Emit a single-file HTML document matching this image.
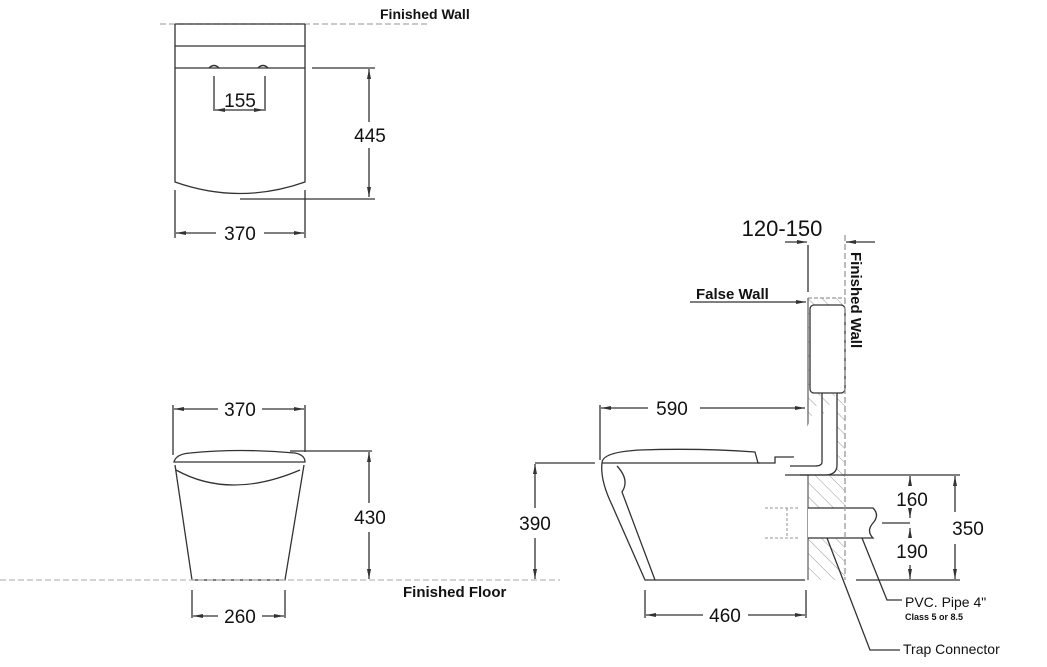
<!DOCTYPE html>
<html><head><meta charset="utf-8"><style>
html,body{margin:0;padding:0;background:#fff}
svg{display:block}
text{font-family:"Liberation Sans",Arial,sans-serif;fill:#111}
</style></head><body>
<svg width="1047" height="667" viewBox="0 0 1047 667" xmlns="http://www.w3.org/2000/svg">
<defs>
<marker id="a" viewBox="0 0 10 6" refX="10" refY="3" markerWidth="10" markerHeight="6" orient="auto-start-reverse" markerUnits="userSpaceOnUse"><path d="M0,1 L10,3 L0,5 z" fill="#333"/></marker>
<pattern id="h" width="10" height="10" patternUnits="userSpaceOnUse" patternTransform="rotate(-45)"><line x1="0" y1="0" x2="0" y2="10" stroke="#999" stroke-width="1"/></pattern>
</defs>
<g stroke="#333" stroke-width="1.3" fill="none">
<!-- TOP VIEW -->
<line x1="160" y1="24" x2="430" y2="24" stroke="#aaa" stroke-dasharray="6,3"/>
<path d="M175,24 H305 M175,46 H305 M175,68 H305"/>
<path d="M175,24 V182 Q240,205 305,182 V24"/>
<path d="M209,68 q5,-5 10,0 M258,68 q5,-5 10,0"/>
<path d="M175,190 V238 M305,190 V238"/>
<line x1="176" y1="233" x2="216" y2="233" marker-start="url(#a)"/>
<line x1="264" y1="233" x2="304" y2="233" marker-end="url(#a)"/>
<path d="M214,76 V111 M265,76 V111"/>
<line x1="215" y1="110" x2="264" y2="110" marker-start="url(#a)" marker-end="url(#a)"/>
<path d="M312,68 H375 M240,199 H375"/>
<line x1="369" y1="69" x2="369" y2="122" marker-start="url(#a)"/>
<line x1="369" y1="148" x2="369" y2="197" marker-end="url(#a)"/>
<!-- FRONT VIEW -->
<path d="M173,405 V455 M305,405 V452"/>
<line x1="174" y1="409" x2="218" y2="409" marker-start="url(#a)"/>
<line x1="262" y1="409" x2="304" y2="409" marker-end="url(#a)"/>
<path d="M174,462 Q176,454 190,453 Q240,448 295,453 Q305,455 305,462 H174 Z"/>
<path d="M176,470 Q230,500 300,470"/>
<path d="M175,465 L192,580 H285 L304,465"/>
<line x1="0" y1="580" x2="560" y2="580" stroke="#bbb" stroke-dasharray="6,3"/>
<path d="M192,590 V618 M285,590 V618"/>
<line x1="193" y1="616" x2="218" y2="616" marker-start="url(#a)"/>
<line x1="262" y1="616" x2="284" y2="616" marker-end="url(#a)"/>
<path d="M290,451 H372"/>
<line x1="369" y1="452" x2="369" y2="503" marker-start="url(#a)"/>
<line x1="369" y1="532" x2="369" y2="579" marker-end="url(#a)"/>
<!-- SIDE VIEW -->
<path d="M535,463 H595"/>
<line x1="535" y1="464" x2="535" y2="508" marker-start="url(#a)"/>
<line x1="535" y1="538" x2="535" y2="579" marker-end="url(#a)"/>
<path d="M600,405 V460"/>
<line x1="601" y1="408" x2="648" y2="408" marker-start="url(#a)"/>
<line x1="700" y1="408" x2="805" y2="408" marker-end="url(#a)"/>
<path d="M602,463 Q602,452 640,450 Q700,448 755,452 L758,463 H775 V457 H800"/>
<path d="M602,463 Q600,480 612,505 L645,580 H805"/>
<path d="M617,466 Q630,480 622,492 L655,580"/>
<path d="M602,463 H760"/>
<path d="M645,590 V618 M806,590 V618"/>
<line x1="646" y1="615" x2="703" y2="615" marker-start="url(#a)"/>
<line x1="748" y1="615" x2="805" y2="615" marker-end="url(#a)"/>
<rect x="808" y="298" width="37" height="282" fill="url(#h)" stroke="none"/>
<path d="M808,298 V580" stroke="#666"/>
<rect x="810" y="305" width="35" height="88" rx="4" fill="#fff"/>
<path d="M822,393 V462 Q822,466 815,466 H790 M837,393 V465 Q837,475 825,475 H785" fill="#fff"/>
<rect x="808" y="508" width="65" height="30" fill="#fff" stroke="none"/>
<path d="M808,508 H873 Q880,515 873,523 Q866,531 873,538 H808"/>
<path d="M765,508 H800 M765,538 H800 M787,508 V538" stroke="#aaa" stroke-dasharray="3,2"/>
<line x1="845" y1="235" x2="845" y2="580" stroke="#999" stroke-dasharray="6,3"/>
<path d="M808,245 V292"/>
<line x1="785" y1="242" x2="807" y2="242" marker-end="url(#a)"/>
<line x1="875" y1="242" x2="846" y2="242" marker-end="url(#a)"/>
<path d="M808,298 H845" stroke="#999" stroke-dasharray="4,2"/>
<line x1="690" y1="302" x2="806" y2="302" marker-end="url(#a)"/>
<path d="M800,475 H960 M856,580 H960"/>
<line x1="910" y1="476" x2="910" y2="486" marker-start="url(#a)"/>
<line x1="910" y1="510" x2="910" y2="518" marker-end="url(#a)"/>
<line x1="910" y1="528" x2="910" y2="536" marker-start="url(#a)"/>
<line x1="910" y1="565" x2="910" y2="579" marker-end="url(#a)"/>
<line x1="882" y1="523" x2="910" y2="523"/>
<line x1="955" y1="476" x2="955" y2="512" marker-start="url(#a)"/>
<line x1="955" y1="544" x2="955" y2="579" marker-end="url(#a)"/>
<path d="M862,538 L887,600 H902"/>
<path d="M827,538 L870,650 H900"/>
</g>
<g font-size="16">
<text x="380" y="19" font-size="14" font-weight="bold">Finished Wall</text>
<text x="240" y="107" text-anchor="middle" font-size="19">155</text>
<text x="370" y="142" text-anchor="middle" font-size="19">445</text>
<text x="240" y="240" text-anchor="middle" font-size="19">370</text>
<text x="240" y="416" text-anchor="middle" font-size="19">370</text>
<text x="370" y="524" text-anchor="middle" font-size="19">430</text>
<text x="240" y="623" text-anchor="middle" font-size="19">260</text>
<text x="403" y="597" font-size="15" font-weight="bold">Finished Floor</text>
<text x="535" y="530" text-anchor="middle" font-size="19">390</text>
<text x="672" y="415" text-anchor="middle" font-size="19">590</text>
<text x="725" y="622" text-anchor="middle" font-size="19">460</text>
<text x="782" y="236" text-anchor="middle" font-size="22">120-150</text>
<text x="696" y="299" font-size="15" font-weight="bold">False Wall</text>
<text x="851" y="252" font-size="15" font-weight="bold" transform="rotate(90 851 252)">Finished Wall</text>
<text x="912" y="506" text-anchor="middle" font-size="19">160</text>
<text x="912" y="558" text-anchor="middle" font-size="19">190</text>
<text x="968" y="535" text-anchor="middle" font-size="19">350</text>
<text x="905" y="607" font-size="14">PVC. Pipe 4"</text>
<text x="905" y="620" font-size="9" font-weight="bold">Class 5 or 8.5</text>
<text x="903" y="654" font-size="14">Trap Connector</text>
</g>
</svg>
</body></html>
